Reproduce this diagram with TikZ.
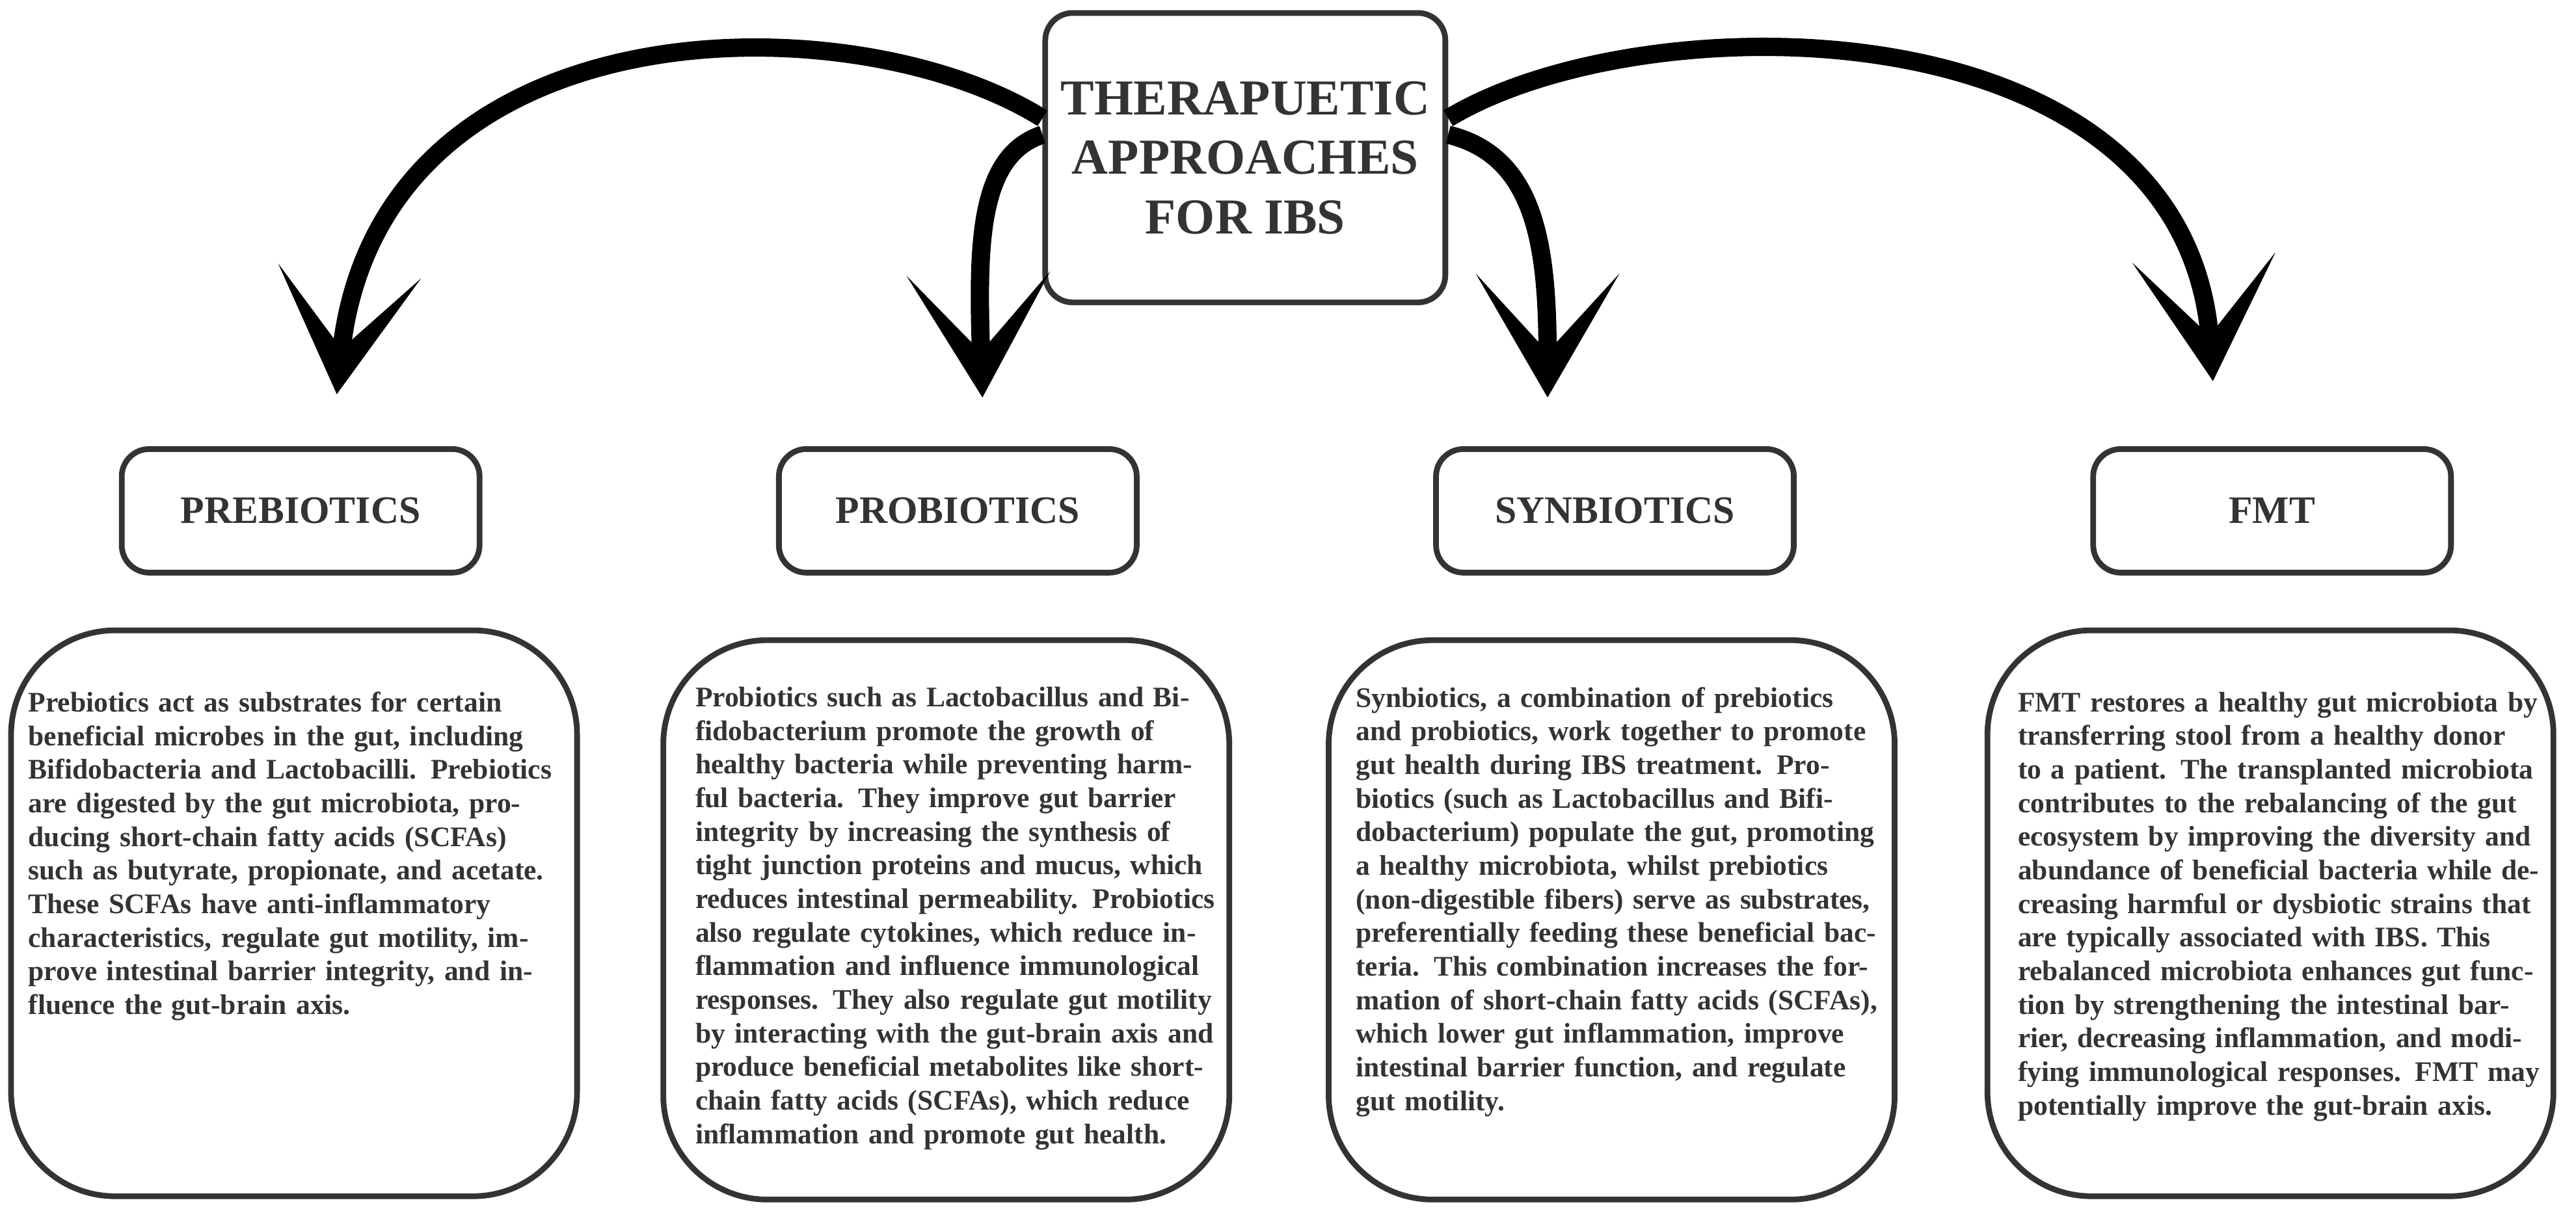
\documentclass[tikz,border=0pt]{standalone}
\usepackage{fontspec}
\setmainfont{Liberation Serif}
\usetikzlibrary{arrows.meta}
\definecolor{ink}{HTML}{333333}
\newcommand{\nohyph}{\hyphenpenalty=10000 \exhyphenpenalty=10000 }
\begin{document}
\begin{tikzpicture}[x=0.025255cm,y=-0.025255cm,
  box/.style={draw=ink,line width=2.5pt,rounded corners=12pt,text=ink,font=\bfseries},
  head/.style={box,minimum width=5.5cm,minimum height=1.9cm,font=\bfseries\fontsize{17}{20}\selectfont},
  panel/.style={draw=ink,line width=2.5pt,rounded corners=1.6cm,minimum width=8.7cm,minimum height=8.6cm},
  txt/.style={anchor=north west,text=ink,text width=8.1cm,align=left,font=\bfseries\fontsize{12.4}{14.7}\selectfont,inner sep=0pt},
  arr/.style={line width=8pt,draw=black,-{Stealth[length=1.9cm,width=2.2cm,inset=1.2cm]}}]
\useasboundingbox (0,0) rectangle (1568,746);
\node[box,minimum width=6.15cm,minimum height=4.45cm,align=center,font=\bfseries\fontsize{22}{26}\selectfont] (t) at (758,96) {THERAPUETIC\\APPROACHES\\FOR IBS};
\node[head] (h1) at (183,311) {PREBIOTICS};
\node[head] (h2) at (583,311) {PROBIOTICS};
\node[head] (h3) at (983,311) {SYNBIOTICS};
\node[head] (h4) at (1383,311) {FMT};
\coordinate (a1) at (205,240);
\coordinate (a2) at (598,242);
\coordinate (a3) at (942,242);
\coordinate (a4) at (1347,232);
\draw[arr] (t.west|-0,72) .. controls (520,0) and (230,0) .. (a1);
\draw[arr] (t.west|-0,82) .. controls (595,95) and (595,150) .. (a2);
\draw[arr] (t.east|-0,82) .. controls (935,95) and (942,150) .. (a3);
\draw[arr] (t.east|-0,72) .. controls (1000,0) and (1330,0) .. (a4);
\node[panel,minimum height=8.7cm] (b1) at (179,556) {};
\node[panel] (b2) at (576,560) {};
\node[panel] (b3) at (981,560) {};
\node[panel,minimum height=8.7cm] (b4) at (1382,556) {};
\node[txt] (p1) at (17,421) {\nohyph Prebiotics act as substrates for certain beneficial microbes in the gut, including Bifidobacteria and Lactobacilli. Prebiotics are digested by the gut microbiota, producing short-chain fatty acids (SCFAs) such as butyrate, propionate, and acetate. These SCFAs have anti-inflammatory characteristics, regulate gut motility, improve intestinal barrier integrity, and influence the gut-brain axis.};
\node[txt] (p2) at (423,418) {\nohyph Probiotics such as Lactobacillus and Bifidobacterium promote the growth of healthy bacteria while preventing harmful bacteria. They improve gut barrier integrity by increasing the synthesis of tight junction proteins and mucus, which reduces intestinal permeability. Probiotics also regulate cytokines, which reduce inflammation and influence immunological responses. They also regulate gut motility by interacting with the gut-brain axis and produce beneficial metabolites like short-chain fatty acids (SCFAs), which reduce inflammation and promote gut health.};
\node[txt] (p3) at (825,418) {\nohyph Synbiotics, a combination of prebiotics and probiotics, work together to promote gut health during IBS treatment. Probiotics (such as Lactobacillus and Bifidobacterium) populate the gut, promoting a healthy microbiota, whilst prebiotics (non-digestible fibers) serve as substrates, preferentially feeding these beneficial bacteria. This combination increases the formation of short-chain fatty acids (SCFAs), which lower gut inflammation, improve intestinal barrier function, and regulate gut motility.};
\node[txt] (p4) at (1228,421) {\nohyph FMT restores a healthy gut microbiota by transferring stool from a healthy donor to a patient. The transplanted microbiota contributes to the rebalancing of the gut ecosystem by improving the diversity and abundance of beneficial bacteria while decreasing harmful or dysbiotic strains that are typically associated with IBS. This rebalanced microbiota enhances gut function by strengthening the intestinal barrier, decreasing inflammation, and modifying immunological responses. FMT may potentially improve the gut-brain axis.};
\end{tikzpicture}
\end{document}
